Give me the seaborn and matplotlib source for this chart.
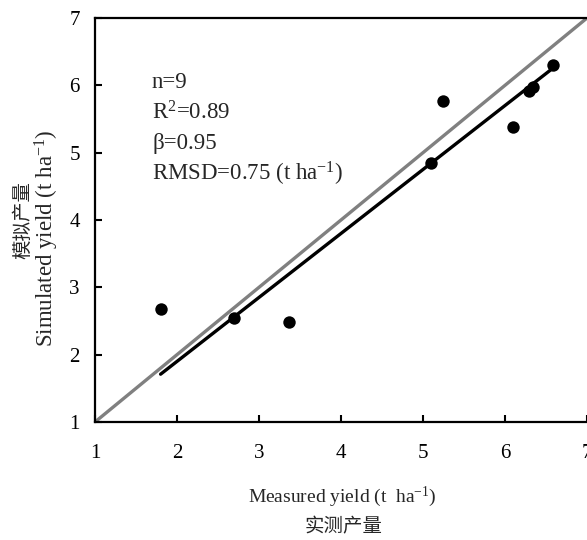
import numpy as np
import pandas as pd
import matplotlib
matplotlib.use("Agg")
import matplotlib.pyplot as plt
import seaborn as sns

# ---- data ----
measured = [1.80, 2.70, 3.37, 5.10, 5.24, 6.10, 6.29, 6.34, 6.59]
simulated = [2.68, 2.55, 2.49, 4.85, 5.77, 5.38, 5.92, 5.98, 6.30]
beta = 0.95
stats_lines = ["n=9", "R$^{\\mathregular{2}}$=0.89", "\u03b2=0.95",
               "RMSD=0.75 (t ha$^{\\mathregular{-1}}$)"]
ticks = [1, 2, 3, 4, 5, 6, 7]
xlabel_en = "Measured yield (t  ha$^{\\mathregular{-1}}$)"
xlabel_cn = "实测产量"
ylabel_en = "Simulated yield (t ha$^{\\mathregular{-1}}$)"
ylabel_cn = "模拟产量"

sns.set_style("white")
plt.rcParams['font.family'] = ['Liberation Serif', 'Noto Sans CJK SC']
plt.rcParams['mathtext.fontset'] = 'custom'
plt.rcParams['mathtext.rm'] = 'Liberation Serif'
plt.rcParams['mathtext.it'] = 'Liberation Serif:italic'
plt.rcParams['mathtext.bf'] = 'Liberation Serif:bold'

W, H = 587, 540
fig = plt.figure(figsize=(W / 100, H / 100), dpi=100)
ax = fig.add_axes([95 / W, 1 - 422 / H, (587 - 95) / W, (422 - 18) / H])

df = pd.DataFrame({"measured": measured, "simulated": simulated})

# 1:1 line
one = pd.DataFrame({"x": [ticks[0], ticks[-1]], "y": [ticks[0], ticks[-1]]})
sns.lineplot(data=one, x="x", y="y", color="#808080", linewidth=2.4, ax=ax)

# regression through origin, slope beta, across the measured range
xr = np.array([min(measured), max(measured)])
reg = pd.DataFrame({"x": xr, "y": beta * xr})
sns.lineplot(data=reg, x="x", y="y", color="black", linewidth=2.4, ax=ax)

sns.scatterplot(data=df, x="measured", y="simulated", color="black", s=80,
                edgecolor="black", linewidth=0, ax=ax, zorder=5)

ax.set_xlim(ticks[0], ticks[-1])
ax.set_ylim(ticks[0], ticks[-1])
ax.set_xticks(ticks)
ax.set_yticks(ticks)
ax.set_xlabel("")
ax.set_ylabel("")

for s in ["left", "bottom", "top"]:
    ax.spines[s].set_visible(True)
    ax.spines[s].set_color("black")
    ax.spines[s].set_linewidth(1.6)
ax.spines["right"].set_visible(False)

ax.tick_params(axis="x", direction="in", length=5, width=1.5, labelsize=15,
               pad=16, colors="black", bottom=True, top=False)
ax.tick_params(axis="y", direction="in", length=5, width=1.5, labelsize=15,
               pad=11, colors="black", left=True, right=False)

# stats text
for i, t in enumerate(stats_lines):
    fig.text(152 / W, 1 - (82 + i * 30.5) / H, t, fontsize=16.5,
             ha="left", va="center")

# axis labels
fig.text(342 / W, 1 - 497 / H, xlabel_en, fontsize=14, ha="center", va="center")
fig.text(344 / W, 1 - 527 / H, xlabel_cn, fontsize=14, ha="center", va="center")
fig.text(23 / W, 1 - 220 / H, ylabel_cn, fontsize=14, ha="center", va="center",
         rotation=90)
fig.text(47 / W, 1 - 238 / H, ylabel_en, fontsize=16.5, ha="center", va="center",
         rotation=90)

fig.savefig("out.png", dpi=100)
